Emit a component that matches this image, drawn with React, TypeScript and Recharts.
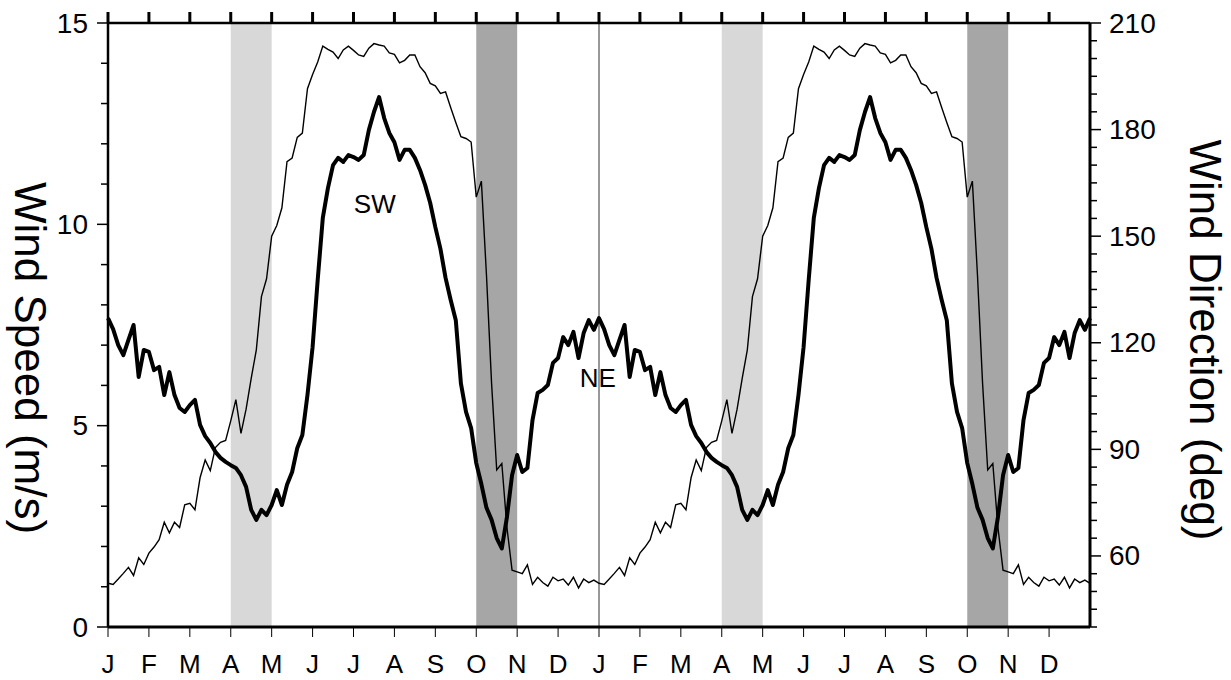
import {
  LineChart,
  Line,
  XAxis,
  YAxis,
  ReferenceArea,
  ReferenceLine,
  ReferenceDot,
} from 'recharts'

// one climatological year, sampled every 1/8 month, plotted twice
const speedYear = [
  7.67, 7.4, 7.0, 6.75, 7.13, 7.5, 6.21, 6.88, 6.83, 6.38, 6.46, 5.76, 6.33, 5.76, 5.44, 5.34, 5.51, 5.64, 5.02, 4.74, 4.57, 4.35, 4.2, 4.1,
  4.02, 3.95, 3.77, 3.48, 2.91, 2.66, 2.91, 2.78, 3.03, 3.4, 3.03, 3.53, 3.85, 4.44, 4.77, 5.76,
  6.95, 8.62, 10.16, 10.9, 11.47, 11.65, 11.55, 11.72, 11.67, 11.6, 11.72, 12.34, 12.79, 13.16, 12.64, 12.27,
  12.04, 11.6, 11.85, 11.85, 11.65, 11.35, 10.98, 10.53, 9.93, 9.39, 8.67, 8.12, 7.62, 6.05, 5.34, 4.94,
  4.07, 3.55, 2.96, 2.66, 2.21, 1.95, 2.73, 3.77, 4.27, 3.85, 3.95, 5.14, 5.81, 5.89, 6.01, 6.56,
  6.68, 7.2, 7.0, 7.33, 6.68, 7.3, 7.62, 7.38,
]

const dirYear = [
  52.3, 52.0, 53.5, 55.1, 56.8, 54.5, 59.5, 57.6, 60.8, 62.5, 64.6, 69.5, 66.5, 69.5, 68.0, 74.4, 74.8, 73.0, 82.0, 87.0, 84.0, 90.5, 92.0, 92.5,
  98.0, 104.0, 94.5, 101.3, 110.0, 118.0, 133.0, 138.0, 150.0, 153.0, 158.0, 171.0, 172.0, 177.8, 179.0, 191.5,
  195.5, 199.0, 203.5, 202.6, 201.8, 200.0, 202.4, 203.5, 202.3, 201.0, 200.6, 202.9, 204.2, 203.8, 203.5, 201.6,
  201.2, 198.8, 199.5, 201.0, 201.0, 197.7, 196.0, 193.0, 192.3, 190.2, 190.6, 186.2, 182.0, 178.0, 177.5, 176.5,
  161.0, 165.5, 139.0, 108.5, 84.2, 86.0, 68.0, 56.0, 55.5, 55.0, 57.5, 52.0, 54.0, 52.5, 51.5, 54.0,
  53.0, 53.5, 51.8, 54.0, 51.0, 53.5, 52.5, 53.2,
]

const monthLabels = ['J', 'F', 'M', 'A', 'M', 'J', 'J', 'A', 'S', 'O', 'N', 'D']
const monthTicks = [0, 1, 2, 3, 4, 5, 6, 7, 8, 9, 10, 11, 12, 13, 14, 15, 16, 17, 18, 19, 20, 21, 22, 23]
const speedTicks = [0, 1, 2, 3, 4, 5, 6, 7, 8, 9, 10, 11, 12, 13, 14, 15]
const dirTicks = [
  40, 45, 50, 55, 60, 65, 70, 75, 80, 85, 90, 95, 100, 105, 110, 115, 120, 125, 130, 135, 140, 145, 150, 155, 160, 165, 170, 175, 180,
  185, 190, 195, 200, 205, 210,
]
// transition months (April, October) in each of the two years
const lightBands = [[3, 4], [15, 16]]
const darkBands = [[9, 10], [21, 22]]

const perYear = speedYear.length
const data: { x: number; speed: number; dir: number }[] = []
for (let yr = 0; yr < 2; yr++) {
  speedYear.forEach((s, i) => {
    data.push({ x: yr * 12 + (i * 12) / perYear, speed: s, dir: dirYear[i] })
  })
}
data.push({ x: 24, speed: speedYear[0], dir: dirYear[0] })

const FONT = '"Liberation Sans", Arial, Helvetica, sans-serif'

function SpeedTick({ x, y, payload }: any) {
  const v = payload.value
  const major = v % 5 === 0
  return (
    <g>
      <line x1={x} x2={x - (major ? 11 : 7)} y1={y} y2={y} stroke="#000" strokeWidth={1.5} />
      {major && (
        <text x={x - 20} y={y} textAnchor="end" dominantBaseline="central" fontSize={28} fontFamily={FONT} fill="#000">
          {v}
        </text>
      )}
    </g>
  )
}

function DirTick({ x, y, payload }: any) {
  const v = payload.value
  const major = v >= 60 && v % 30 === 0
  return (
    <g>
      <line x1={x} x2={x + (major ? 11 : 7)} y1={y} y2={y} stroke="#000" strokeWidth={1.5} />
      {major && (
        <text x={x + 19} y={y} textAnchor="start" dominantBaseline="central" fontSize={28} fontFamily={FONT} fill="#000">
          {v}
        </text>
      )}
    </g>
  )
}

function MonthTick({ x, y, payload }: any) {
  return (
    <g>
      <line x1={x} x2={x} y1={y} y2={y + 10} stroke="#000" strokeWidth={1} />
      <text x={x} y={y + 37} textAnchor="middle" dominantBaseline="central" fontSize={26} fontFamily={FONT} fill="#000">
        {monthLabels[payload.value % 12]}
      </text>
    </g>
  )
}

function TopTick({ x, y }: any) {
  return <line x1={x} x2={x} y1={y} y2={y - 11} stroke="#000" strokeWidth={3} />
}

const speedTitle = () => (
  <text
    x={30}
    y={358}
    transform="rotate(90 30 358)"
    textAnchor="middle"
    dominantBaseline="central"
    fontSize={44}
    fontFamily={FONT}
    fill="#000"
  >
    Wind Speed (m/s)
  </text>
)

const dirTitle = () => (
  <text
    x={1205}
    y={340}
    transform="rotate(90 1205 340)"
    textAnchor="middle"
    dominantBaseline="central"
    fontSize={44}
    fontFamily={FONT}
    fill="#000"
  >
    Wind Direction (deg)
  </text>
)

export default function App() {
  return (
    <div style={{ position: 'absolute', left: 0, top: 0, width: 1231, height: 680, background: '#fff' }}>
      <LineChart width={1231} height={680} data={data} margin={{ top: 0, right: 0, bottom: 0, left: 0 }}>
        <XAxis
          dataKey="x"
          type="number"
          domain={[0, 24]}
          ticks={monthTicks}
          interval={0}
          height={53}
          tickSize={0}
          tickMargin={0}
          tick={<MonthTick />}
          tickLine={false}
          axisLine={{ stroke: '#000', strokeWidth: 3 }}
        />
        <XAxis
          xAxisId="top"
          orientation="top"
          dataKey="x"
          type="number"
          domain={[0, 24]}
          ticks={monthTicks}
          interval={0}
          height={23}
          tickSize={0}
          tickMargin={0}
          tick={<TopTick />}
          tickLine={false}
          axisLine={{ stroke: '#000', strokeWidth: 2.5 }}
        />
        <YAxis
          yAxisId="speed"
          domain={[0, 15]}
          ticks={speedTicks}
          interval={0}
          width={108}
          tickSize={0}
          tickMargin={0}
          tick={<SpeedTick />}
          tickLine={false}
          axisLine={{ stroke: '#000', strokeWidth: 2.5 }}
          label={speedTitle}
        />
        <YAxis
          yAxisId="dir"
          orientation="right"
          domain={[40, 210]}
          ticks={dirTicks}
          interval={0}
          width={141}
          tickSize={0}
          tickMargin={0}
          tick={<DirTick />}
          tickLine={false}
          axisLine={{ stroke: '#000', strokeWidth: 3 }}
          label={dirTitle}
        />
        {lightBands.map(([a, b]) => (
          <ReferenceArea key={'l' + a} yAxisId="speed" x1={a} x2={b} y1={0} y2={15} fill="#d8d8d8" fillOpacity={1} stroke="none" />
        ))}
        {darkBands.map(([a, b]) => (
          <ReferenceArea key={'d' + a} yAxisId="speed" x1={a} x2={b} y1={0} y2={15} fill="#a6a6a6" fillOpacity={1} stroke="none" />
        ))}
        <ReferenceLine yAxisId="speed" x={12} stroke="#333" strokeWidth={1} />
        <ReferenceDot
          yAxisId="speed"
          x={6.52}
          y={10.5}
          r={0}
          fill="none"
          stroke="none"
          label={{ value: 'SW', position: 'center', fontSize: 26, fontFamily: FONT, fill: '#000' }}
        />
        <ReferenceDot
          yAxisId="speed"
          x={11.97}
          y={6.2}
          r={0}
          fill="none"
          stroke="none"
          label={{ value: 'NE', position: 'center', fontSize: 26, fontFamily: FONT, fill: '#000' }}
        />
        <Line
          yAxisId="dir"
          type="linear"
          dataKey="dir"
          stroke="#000"
          strokeWidth={1.4}
          dot={false}
          isAnimationActive={false}
        />
        <Line
          yAxisId="speed"
          type="linear"
          dataKey="speed"
          stroke="#000"
          strokeWidth={4}
          strokeLinejoin="round"
          dot={false}
          isAnimationActive={false}
        />
      </LineChart>
    </div>
  )
}
